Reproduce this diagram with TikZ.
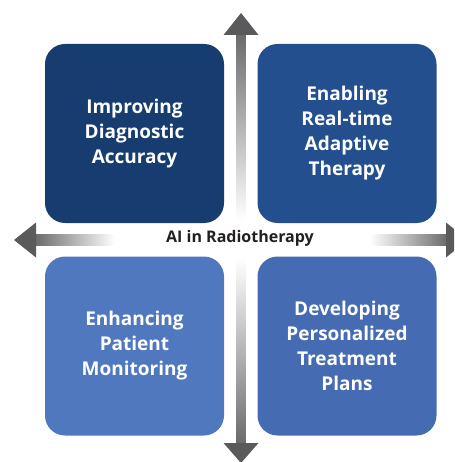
\documentclass[tikz,border=0pt]{standalone}
\usepackage{fontspec}
\setmainfont{Open Sans}
\definecolor{cTL}{HTML}{173C70}
\definecolor{cTR}{HTML}{234F8F}
\definecolor{cBL}{HTML}{5078BE}
\definecolor{cBR}{HTML}{456BB3}
\definecolor{agray}{HTML}{5A5A5C}
\definecolor{ltext}{HTML}{231F20}
\begin{document}
\begin{tikzpicture}[x=1pt,y=-1pt,
  quad/.style={rounded corners=20pt, minimum width=179pt, minimum height=179pt,
    inner sep=0pt, text=white, align=center, font=\bfseries\fontsize{19}{25}\selectfont},
  head/.style={fill=agray, draw=none}]
\useasboundingbox (0,0) rectangle (454,462);
\clip (0,0) rectangle (454,462);
% vertical arrow
\shade[top color=agray!90, bottom color=white] (236.5,34) rectangle (245.5,220);
\shade[top color=white, bottom color=agray!90] (236.5,258) rectangle (245.5,444);
\fill[head] (241,13) -- (258.5,35) -- (223.5,35) -- cycle;
\fill[head] (241,463) -- (258.5,443) -- (223.5,443) -- cycle;
% horizontal arrow
\shade[left color=agray!90, right color=white] (35,234.5) rectangle (115,245.5);
\shade[left color=white, right color=agray!90] (370,234.5) rectangle (447,245.5);
\fill[head] (14,240) -- (36,222.5) -- (36,257.5) -- cycle;
\fill[head] (468,240) -- (446,222.5) -- (446,257.5) -- cycle;
% quadrants
\node[quad, fill=cTL] (tl) at (134.5,133.5) {Improving\\Diagnostic\\Accuracy};
\node[quad, fill=cTR] (tr) at (347,133.5) {Enabling\\Real-time\\Adaptive\\Therapy};
\node[quad, fill=cBL] (bl) at (134.5,346) {Enhancing\\Patient\\Monitoring};
\node[quad, fill=cBR] (br) at (347,346) {Developing\\Personalized\\Treatment\\Plans};
\node[font=\bfseries\fontsize{16}{18}\selectfont, text=ltext, inner sep=1pt] (lab) at (240,238) {AI in Radiotherapy};
\end{tikzpicture}
\end{document}
